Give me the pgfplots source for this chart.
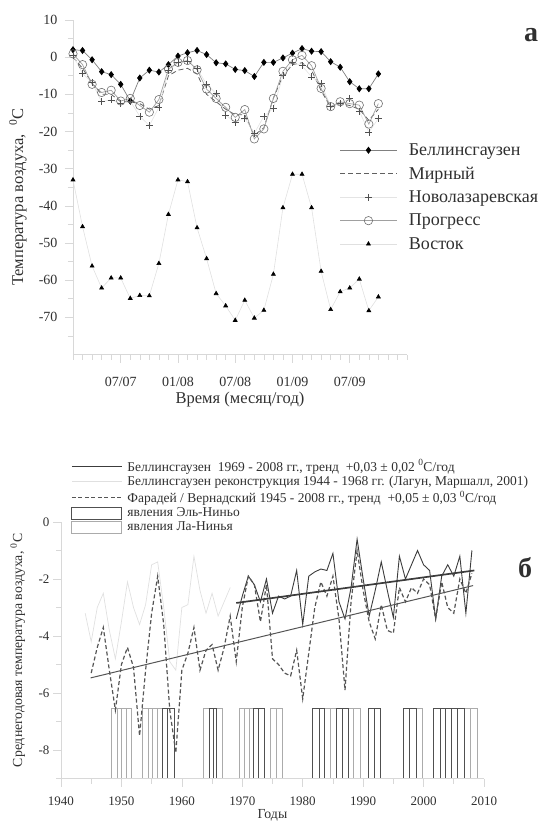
\documentclass[border=0pt]{standalone}
\usepackage{fontspec}
\setmainfont{Liberation Serif}
\usepackage{pgfplots}
\usepackage{pgfplotstable}
\pgfplotsset{compat=1.18}

\definecolor{axgray}{HTML}{D8D8D8}
\definecolor{txt}{HTML}{303030}
\definecolor{belgray}{HTML}{808080}
\definecolor{mirgray}{HTML}{606060}
\definecolor{novline}{HTML}{E4E4E4}
\definecolor{novmark}{HTML}{505050}
\definecolor{proline}{HTML}{A0A0A0}
\definecolor{promark}{HTML}{707070}
\definecolor{vosline}{HTML}{E0E0E0}
\definecolor{bellsolid}{HTML}{3C3C3C}
\definecolor{recon}{HTML}{E0E0E0}
\definecolor{farad}{HTML}{555555}
\definecolor{nino}{HTML}{505050}
\definecolor{nina}{HTML}{ABABAB}

% monthly means, m = 1 is 02/2007 ... m = 33 is 10/2009 (m = 0 would be 01/2007)
\pgfplotstableread{
m   bel    mir    nov    pro    vos
1   2.0    0.0    0.5    0.9   -33.0
2   1.8   -3.0   -4.4   -2.0   -45.6
3  -0.7   -7.0   -6.8   -7.3   -56.2
4  -3.9  -10.0  -12.0   -9.5   -62.1
5  -4.7  -10.0  -11.5   -8.9   -59.4
6  -7.3  -12.0  -12.5  -11.8   -59.4
7 -11.8  -12.0  -11.8  -11.1   -64.9
8  -5.6  -12.5  -15.9  -13.0   -64.1
9  -3.5  -14.0  -18.4  -14.8   -64.2
10 -4.0  -13.0  -13.5  -11.4   -55.5
11 -2.0   -5.0   -3.6   -3.2   -42.3
12  0.3   -3.5   -1.5   -1.4   -33.0
13  1.2   -3.0   -1.0   -0.9   -33.5
14  1.8   -4.5   -3.0   -3.4   -45.9
15  0.7  -10.0   -7.3   -8.6   -54.2
16 -1.5  -12.0   -9.8  -11.1   -63.6
17 -1.8  -14.0  -15.6  -13.5   -66.9
18 -3.3  -15.5  -17.5  -16.2   -70.8
19 -3.6  -15.5  -16.4  -14.1   -65.4
20 -5.2  -21.0  -20.5  -22.0   -70.2
21 -1.4  -19.0  -15.9  -19.3   -68.1
22 -1.4  -11.0  -13.8  -11.1   -58.4
23 -0.2   -5.0   -5.0   -3.8   -40.5
24  1.1   -2.0   -1.4   -0.7   -31.5
25  2.3   -1.5   -2.3    0.5   -31.5
26  1.6   -3.5   -5.3   -2.3   -40.5
27  1.5   -9.0   -7.1   -8.4   -57.6
28 -1.2  -13.5  -13.2  -13.3   -67.9
29 -2.7  -12.5  -12.5  -12.0   -63.1
30 -6.6  -13.0  -11.1  -12.5   -62.1
31 -8.5  -14.0  -14.5  -12.9   -59.7
32 -8.5  -17.0  -20.2  -18.0   -68.2
33 -4.5  -14.0  -16.5  -12.5   -64.5
}\stations

% annual means
\pgfplotstableread{
yr t
1969 -3.4
1970 -2.6
1971 -1.9
1972 -2.2
1973 -2.8
1974 -2.0
1975 -3.2
1976 -2.6
1977 -2.7
1978 -2.6
1979 -1.7
1980 -3.6
1981 -1.9
1982 -1.75
1983 -1.65
1984 -1.7
1985 -1.1
1986 -2.8
1987 -3.4
1988 -2.3
1989 -0.6
1990 -2.0
1991 -3.3
1992 -2.4
1993 -1.4
1994 -2.4
1995 -3.35
1996 -1.2
1997 -2.0
1998 -1.5
1999 -1.0
2000 -1.5
2001 -1.7
2002 -3.4
2003 -1.9
2004 -1.5
2005 -1.9
2006 -1.2
2007 -3.2
2008 -1.0
}\bellobs

\pgfplotstableread{
yr t
1944 -3.2
1945 -4.2
1946 -3.0
1947 -2.5
1948 -3.8
1949 -4.8
1950 -3.5
1951 -2.1
1952 -3.0
1953 -3.6
1954 -2.9
1955 -1.5
1956 -1.4
1957 -3.0
1958 -4.9
1959 -5.2
1960 -3.0
1961 -2.9
1962 -1.2
1963 -2.4
1964 -3.2
1965 -2.5
1966 -3.3
1967 -2.8
1968 -2.3
}\bellrec

\pgfplotstableread{
yr t
1945 -5.3
1946 -4.4
1947 -3.7
1948 -5.2
1949 -6.6
1950 -5.0
1951 -4.4
1952 -5.1
1953 -7.5
1954 -5.2
1955 -3.2
1956 -1.9
1957 -3.6
1958 -6.6
1959 -8.1
1960 -5.2
1961 -4.6
1962 -3.7
1963 -5.2
1964 -4.5
1965 -4.3
1966 -5.2
1967 -4.4
1968 -3.3
1969 -4.9
1970 -3.0
1971 -1.9
1972 -2.2
1973 -3.5
1974 -2.2
1975 -4.8
1976 -5.0
1977 -5.3
1978 -5.4
1979 -4.5
1980 -6.2
1981 -4.6
1982 -3.0
1983 -2.1
1984 -2.6
1985 -1.9
1986 -3.4
1987 -5.9
1988 -2.8
1989 -1.0
1990 -2.4
1991 -3.5
1992 -4.1
1993 -2.9
1994 -3.8
1995 -3.9
1996 -2.3
1997 -2.8
1998 -2.3
1999 -2.5
2000 -2.0
2001 -2.2
2002 -3.4
2003 -2.1
2004 -3.0
2005 -3.2
2006 -2.0
2007 -2.5
2008 -1.8
}\faraday

\pgfplotsset{
  panel/.style={
    scale only axis, axis lines=left, axis line style={draw=axgray,-},
    tick align=outside, tick style={draw=axgray, line width=0.6pt},
    major tick length=8pt, minor tick length=5pt,
    /pgf/number format/assume math mode=true,
    clip=false,
  },
  enso/.style={ybar interval, line width=0.9pt, fill=none},
}

\begin{document}
\begin{tikzpicture}
\path[use as bounding box] (0,0) rectangle (543pt,-821pt);

% ---- panel a ----
\begin{axis}[panel,
  at={(73pt,-354.5pt)}, anchor=south west,
  width=334pt, height=334.5pt,
  xmin=1, xmax=36, ymin=-80, ymax=10,
  xtick={6,12,18,24,30}, xticklabels={07/07,01/08,07/08,01/09,07/09},
  minor xtick={1,...,36},
  ytick={-70,-60,...,10}, minor ytick={-75,-65,...,5},
  ticklabel style={font=\fontsize{14}{16}\selectfont, text=txt},
  xticklabel style={yshift=-11pt},
  yticklabel style={xshift=-4pt},
  xlabel={Время (месяц/год)},
  ylabel={Температура воздуха,\ \ \textsuperscript{0}C},
  label style={font=\fontsize{16.5}{18}\selectfont, text=txt},
  xlabel style={at={(axis description cs:0.5,-0.136)}, anchor=center},
  ylabel style={at={(axis description cs:-0.165,0.47)}, anchor=center},
  legend style={draw=none, fill=none, at={(axis description cs:0.79,0.643)},
    anchor=north west, font=\fontsize{18}{20}\selectfont, text=txt,
    row sep=6pt},
  legend cell align=left,
  legend image code/.code={\draw[mark repeat=2,mark phase=2,#1]
    plot coordinates {(0pt,0pt) (28pt,0pt) (57pt,0pt)};
    \path (66pt,0pt);},
]
\addplot[belgray, line width=0.7pt, mark=diamond*, mark size=3pt,
  mark options={black, fill=black}] table[x=m, y=bel] {\stations};
\addlegendentry{Беллинсгаузен}
\addplot[mirgray, line width=0.8pt, dash pattern=on 5pt off 3pt]
  table[x=m, y=mir] {\stations};
\addlegendentry{Мирный}
\addplot[novline, line width=0.6pt, mark=+, mark size=3.5pt,
  mark options={novmark, line width=0.6pt}] table[x=m, y=nov] {\stations};
\addlegendentry{Новолазаревская}
\addplot[proline, line width=0.7pt, mark=o, mark size=4.2pt,
  mark options={promark, line width=0.6pt}] table[x=m, y=pro] {\stations};
\addlegendentry{Прогресс}
\addplot[vosline, line width=0.6pt, mark=triangle*, mark size=2.3pt,
  mark options={black, fill=black}] table[x=m, y=vos] {\stations};
\addlegendentry{Восток}
\end{axis}
\node[text=txt, font=\fontsize{28}{28}\selectfont\bfseries] at (531pt,-35pt) {а};

% ---- panel b: ENSO years, drawn as heights above the -9 base ----
\begin{axis}[scale only axis, hide axis,
  at={(61pt,-778.5pt)}, anchor=south west,
  width=423pt, height=256.5pt,
  xmin=1940, xmax=2010, ymin=0, ymax=9, clip=false]
% La Nina
\addplot[enso, draw=nina] coordinates {(1948.4,2.45) (1949.3,2.45) (1950.0,2.45) (1950.8,2.45) (1951.6,2.45)};
\addplot[enso, draw=nina] coordinates {(1953.5,2.45) (1954.4,2.45) (1955.1,2.45) (1955.9,2.45) (1956.8,2.45)};
\addplot[enso, draw=nina] coordinates {(1963.5,2.45) (1964.5,2.45)};
\addplot[enso, draw=nina] coordinates {(1965.8,2.45) (1966.7,2.45)};
\addplot[enso, draw=nina] coordinates {(1969.6,2.45) (1970.4,2.45) (1971.2,2.45) (1971.8,2.45)};
\addplot[enso, draw=nina] coordinates {(1974.6,2.45) (1975.6,2.45) (1976.7,2.45)};
\addplot[enso, draw=nina] coordinates {(1983.6,2.45) (1984.6,2.45) (1985.6,2.45)};
\addplot[enso, draw=nina] coordinates {(1987.5,2.45) (1988.4,2.45) (1989.5,2.45)};
\addplot[enso, draw=nina] coordinates {(1998.8,2.45) (1999.8,2.45)};
\addplot[enso, draw=nina] coordinates {(2006.7,2.45) (2007.8,2.45) (2008.9,2.45)};
% El Nino
\addplot[enso, draw=nino] coordinates {(1956.8,2.45) (1957.6,2.45) (1958.7,2.45)};
\addplot[enso, draw=nino] coordinates {(1964.5,2.45) (1965.2,2.45) (1965.8,2.45)};
\addplot[enso, draw=nino] coordinates {(1971.8,2.45) (1972.6,2.45) (1973.7,2.45)};
\addplot[enso, draw=nino] coordinates {(1981.6,2.45) (1982.7,2.45) (1983.6,2.45)};
\addplot[enso, draw=nino] coordinates {(1985.6,2.45) (1986.5,2.45) (1987.5,2.45)};
\addplot[enso, draw=nino] coordinates {(1990.8,2.45) (1991.8,2.45) (1992.8,2.45)};
\addplot[enso, draw=nino] coordinates {(1996.7,2.45) (1997.6,2.45) (1998.8,2.45)};
\addplot[enso, draw=nino] coordinates {(2001.7,2.45) (2002.8,2.45) (2003.7,2.45) (2004.6,2.45) (2005.6,2.45) (2006.7,2.45)};
\end{axis}

% ---- panel b ----
\begin{axis}[panel,
  at={(61pt,-778.5pt)}, anchor=south west,
  width=423pt, height=256.5pt,
  xmin=1940, xmax=2010, ymin=-9, ymax=0,
  xtick={1940,1950,...,2010}, minor xtick={1945,1955,...,2005},
  ytick={-8,-6,...,0}, minor ytick={-9,-7,...,-1},
  ticklabel style={font=\fontsize{13}{15}\selectfont, text=txt},
  xticklabel style={/pgf/number format/1000 sep={}, yshift=-7pt},
  xlabel={Годы},
  ylabel={Среднегодовая температура воздуха, \textsuperscript{0}C},
  label style={font=\fontsize{13.8}{15}\selectfont, text=txt},
  xlabel style={at={(axis description cs:0.5,-0.145)}, anchor=center},
  ylabel style={at={(axis description cs:-0.102,0.5)}, anchor=center},
  legend style={draw=none, fill=none, at={(axis description cs:0.0165,1.26)},
    anchor=north west, font=\fontsize{13.5}{15}\selectfont, text=txt,
    row sep=-0.2pt},
  legend cell align=left,
  legend image code/.code={\draw[#1] (0pt,0pt) -- (50pt,0pt); \path (53pt,0pt);},
]
\addplot[bellsolid, line width=0.9pt] table[x=yr, y=t] {\bellobs};
\addlegendentry{Беллинсгаузен\ \ 1969 - 2008 гг., тренд\ \ +0,03 ± 0,02 \textsuperscript{0}С/год}
\addplot[recon, line width=0.7pt] table[x=yr, y=t] {\bellrec};
\addlegendentry{Беллинсгаузен реконструкция 1944 - 1968 гг. (Лагун, Маршалл, 2001)}
\addplot[farad, line width=1.2pt, dash pattern=on 4pt off 2.5pt] table[x=yr, y=t] {\faraday};
\addlegendentry{Фарадей / Вернадский 1945 - 2008 гг., тренд\ \ +0,05 ± 0,03 \textsuperscript{0}С/год}
% linear trends
\addplot[forget plot, bellsolid, line width=1.7pt] coordinates {(1969,-2.84) (2008.4,-1.70)};
\addplot[forget plot, farad, line width=1pt] coordinates {(1944.9,-5.47) (2008.2,-2.23)};
\addlegendimage{legend image code/.code={\draw[nino, line width=1pt] (0pt,-6pt) rectangle (50pt,6pt); \path (53pt,0pt);}}
\addlegendentry{явления Эль-Ниньо}
\addlegendimage{legend image code/.code={\draw[nina, line width=0.9pt] (0pt,-6pt) rectangle (50pt,6pt); \path (53pt,0pt);}}
\addlegendentry{явления Ла-Нинья}
\end{axis}
\node[text=txt, font=\fontsize{28}{28}\selectfont\bfseries] at (525pt,-568pt) {б};
\end{tikzpicture}
\end{document}
